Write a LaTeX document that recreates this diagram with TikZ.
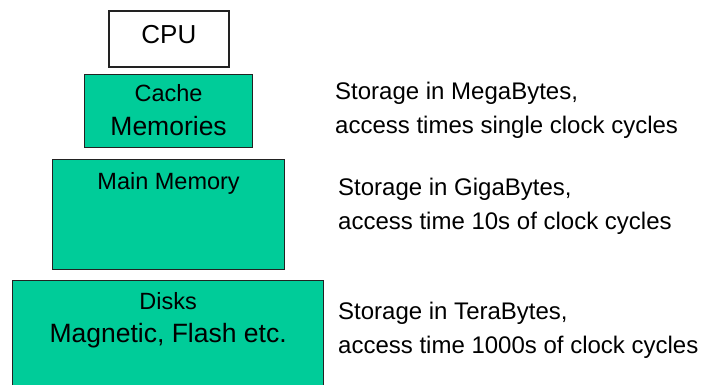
\documentclass[tikz,border=0pt]{standalone}
\usepackage{fontspec}
\setmainfont{Liberation Sans}
\usetikzlibrary{positioning}
\definecolor{cMem}{HTML}{00CC99}
\definecolor{cEdge}{HTML}{222222}
\tikzset{
  box/.style={draw=cEdge,line width=1.2pt,inner sep=0pt,anchor=north west},
  cpubox/.style={box,fill=white,line width=1.8pt},
  membox/.style={box,fill=cMem},
  txt/.style={inner sep=0pt,anchor=base,font=\fontsize{23.5}{34}\selectfont},
  bigtxt/.style={txt,font=\fontsize{26.5}{33}\selectfont},
  note/.style={txt,align=left,anchor=base west,font=\fontsize{24}{34}\selectfont}}
\begin{document}
\begin{tikzpicture}[x=1pt,y=-1pt]
\useasboundingbox (0,0) rectangle (701,384);
\clip (0,0) rectangle (701,384);
% hierarchy boxes
\node[cpubox, minimum width=120pt, minimum height=56pt] (cpu) at (108,10) {};
\node[membox, minimum width=168pt, minimum height=73pt] (cache) at (84,74) {};
\node[membox, minimum width=232pt, minimum height=110pt] (main) at (52,159) {};
\node[membox, minimum width=311pt, minimum height=112pt] (disks) at (12,280) {};
% box texts
\node[txt, font=\fontsize{26}{30}\selectfont] (cpulbl) at ([yshift=-4.7pt]cpu.center) {CPU};
\node[txt] (cachelbl) at ([yshift=-27.5pt]cache.north) {Cache};
\node[bigtxt] (cachelbl2) at ([yshift=-61pt]cache.north) {Memories};
\node[txt] (mainlbl) at ([yshift=-30pt]main.north) {Main Memory};
\node[txt] (diskslbl) at ([yshift=-29pt]disks.north) {Disks};
\node[bigtxt] (diskslbl2) at ([yshift=-62pt]disks.north) {Magnetic, Flash etc.};
% notes on the right (anchored at the second line)
\node[note] (cachenote) at (335,133.3) {Storage in MegaBytes,\\access times single clock cycles};
\node[note] (mainnote) at (338,229) {Storage in GigaBytes,\\access time 10s of clock cycles};
\node[note] (disksnote) at (338,353) {Storage in TeraBytes,\\access time 1000s of clock cycles};
\end{tikzpicture}
\end{document}
